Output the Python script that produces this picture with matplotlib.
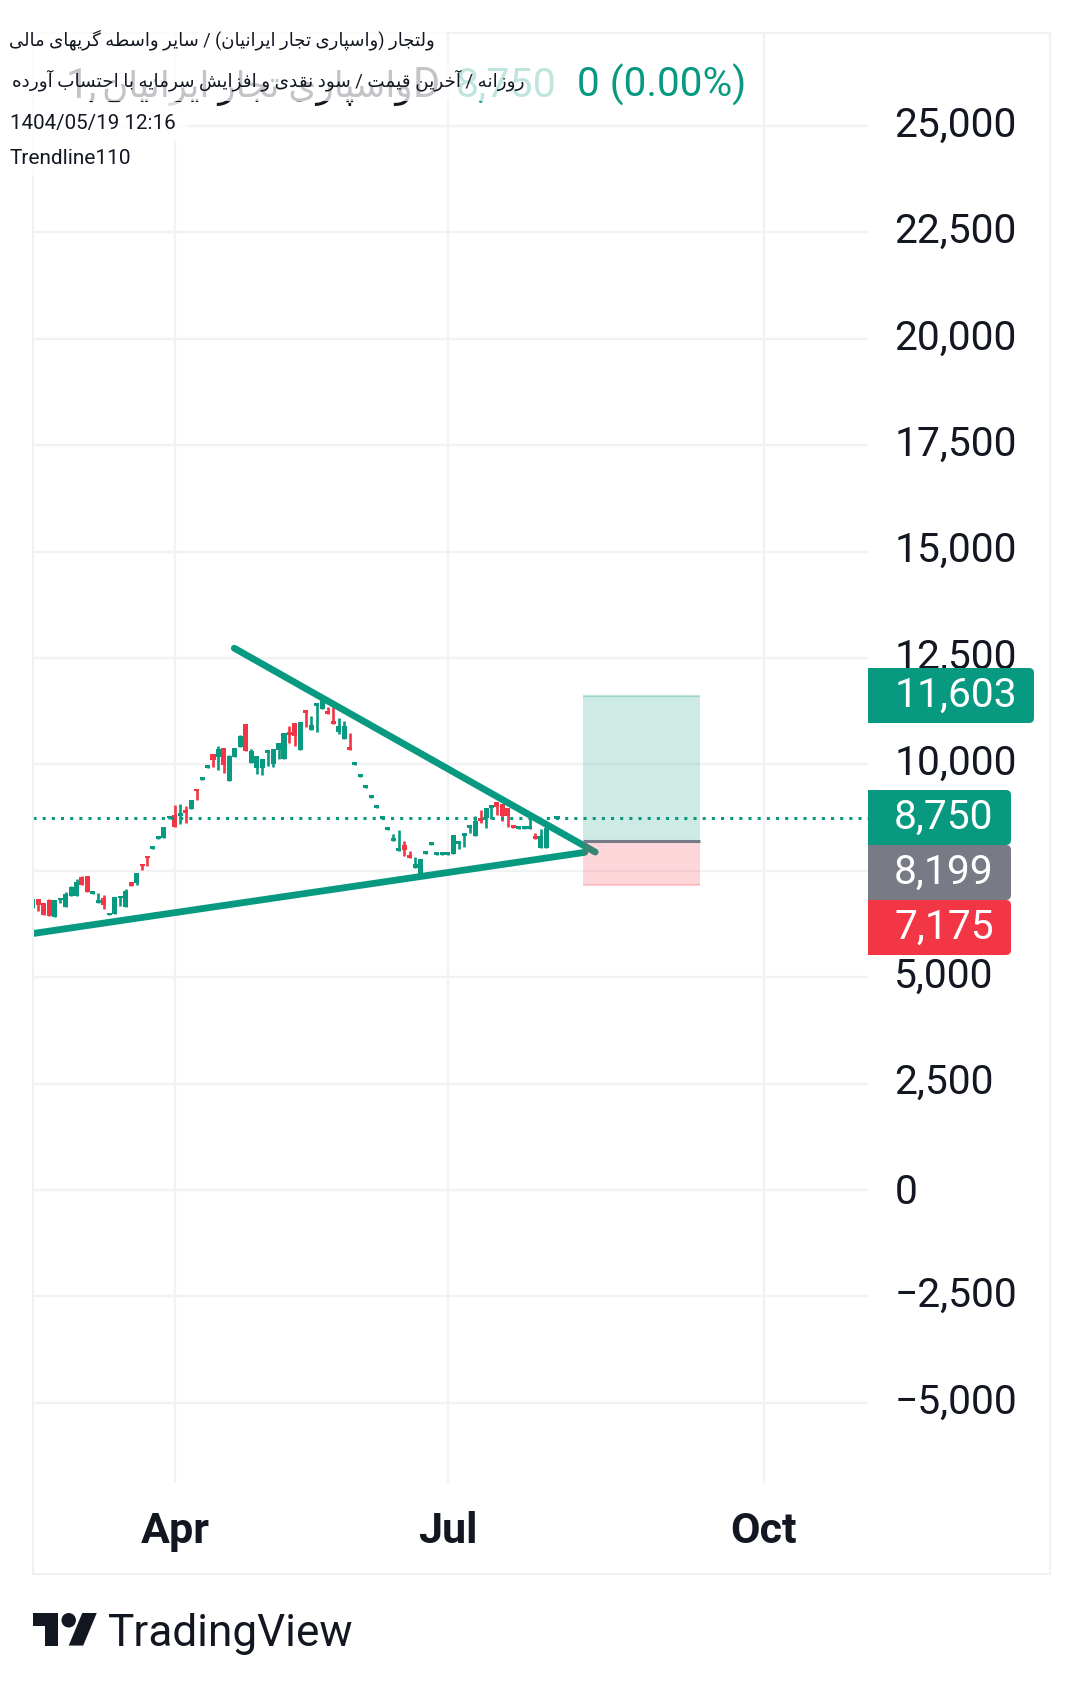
import unicodedata
import matplotlib
matplotlib.use("Agg")
from matplotlib import pyplot as plt
from matplotlib.patches import Rectangle, Circle, Polygon, PathPatch
from matplotlib.path import Path
from matplotlib.transforms import ScaledTranslation

plt.rcParams['font.family'] = ['Roboto', 'DejaVu Sans']

# daily bars, one gap before the last bar
bar_index = list(range(95)) + [96]
opens = [6627, 6846, 6752, 6807, 6416, 6807, 6650, 6909, 6909, 7347,
         7370, 6956, 6744, 6854, 6463, 6486, 6854, 6650, 7237, 7214,
         7668, 7856, 8012, 8247, 8270, 8732, 8802, 8779, 8920, 8943,
         9428, 9625, 9914, 10235, 10165, 10376, 9601, 10165, 10399, 10939,
         10024, 9906, 9906, 10259, 10000, 10329, 10118, 10752, 10963, 10329,
         11268, 10799, 11362, 11292, 11245, 11010, 10752, 10587, 10399, 9977,
         9695, 9437, 9202, 8967, 8717, 8459, 8201, 7966, 8099, 7864,
         7567, 7418, 7895, 8107, 7872, 7872, 7872, 7888, 8122, 8310,
         8498, 8310, 8733, 8733, 8967, 9108, 9061, 8983, 8568, 8474,
         8474, 8474, 8310, 8028, 8028, 8717]
closes = [6846, 6690, 6455, 6431, 6807, 6870, 6964, 7128, 7245, 7159,
          7003, 7018, 6807, 6690, 6517, 6893, 6917, 7034, 7151, 7441,
          7613, 7793, 8075, 8309, 8521, 8795, 8529, 8849, 8857, 9155,
          9374, 9695, 9977, 10094, 10352, 9977, 10188, 10376, 10658, 10306,
          10306, 10188, 10118, 10329, 10352, 10493, 10728, 10681, 10658, 10986,
          11198, 10916, 11432, 11503, 11174, 10939, 10892, 10892, 10329, 10047,
          9766, 9507, 9273, 9038, 8780, 8521, 8263, 8028, 7982, 7802,
          7669, 7770, 7958, 8169, 7935, 7935, 7935, 8334, 8193, 8381,
          8568, 8662, 8662, 8967, 9038, 8991, 8780, 8780, 8498, 8545,
          8545, 8545, 8240, 8310, 8498, 8780]
highs = [6846, 6846, 6752, 6830, 6807, 6870, 6995, 7151, 7300, 7370,
         7370, 7018, 6971, 6940, 6517, 6893, 6917, 7065, 7237, 7441,
         7668, 7856, 8075, 8309, 8521, 8795, 9037, 9061, 9014, 9155,
         9428, 9695, 9977, 10235, 10423, 10376, 10212, 10376, 10681, 10939,
         10352, 10188, 10118, 10329, 10352, 10493, 10728, 10892, 10963, 10986,
         11268, 11127, 11432, 11581, 11338, 11338, 11080, 11010, 10728, 10047,
         9766, 9507, 9273, 9038, 8780, 8521, 8357, 8451, 8193, 7958,
         7817, 7770, 7958, 8169, 7935, 7935, 7935, 8334, 8193, 8381,
         8568, 8780, 8921, 8967, 9038, 9108, 9061, 8983, 8568, 8545,
         8545, 8756, 8381, 8474, 8498, 8780]
lows = [6627, 6557, 6455, 6431, 6416, 6744, 6650, 6909, 6909, 7159,
        7003, 6956, 6744, 6596, 6463, 6486, 6666, 6650, 7151, 7159,
        7511, 7605, 8012, 8247, 8270, 8708, 8529, 8591, 8615, 8943,
        9155, 9625, 9914, 9930, 9860, 9789, 9601, 10165, 10399, 10306,
        10024, 9766, 9742, 9953, 9930, 10118, 10118, 10493, 10423, 10329,
        10869, 10799, 10752, 11292, 11174, 10939, 10705, 10587, 10329, 9977,
        9695, 9437, 9202, 8967, 8717, 8459, 8201, 7966, 7841, 7802,
        7567, 7418, 7895, 8107, 7872, 7872, 7872, 7888, 8005, 8052,
        8381, 8310, 8615, 8498, 8709, 8803, 8662, 8521, 8498, 8474,
        8474, 8474, 8240, 8028, 8028, 8717]

price_ticks = [25000, 22500, 20000, 17500, 15000, 12500, 10000, 7500, 5000, 2500, 0, -2500, -5000]
price_labels = ['25,000', '22,500', '20,000', '17,500', '15,000', '12,500', '10,000', '7,500',
                '5,000', '2,500', '0', '\u22122,500', '\u22125,000']
month_ticks = [26.1, 76, 133.9]
month_labels = ['Apr', 'Jul', 'Oct']

last_price = 8750
target_price = 11603
entry_price = 8199
stop_price = 7175
position_bars = [100.75, 122.1]

upper_line_bars = [36.9, 103.0]
upper_line_prices = [12730, 7941]
lower_line_bars = [0, 101.1]
lower_line_prices = [6026, 7934]

title_lines = ['ولتجار (واسپاری تجار ایرانیان) / سایر واسطه گریهای مالی',
               'روزانه / آخرین قیمت / سود نقدی و افزایش سرمایه با احتساب آورده']
faded_name = 'واسپاری تجار ایرانیان'

TEAL = '#089981'
RED = '#F23645'
GRAY = '#787B86'
INK = '#131722'
GRID = '#F2F2F4'

# matplotlib has no arabic shaping, so pick the joined glyphs by hand
forms = {}
for cp in list(range(0xFB50, 0xFE00)) + list(range(0xFE70, 0xFEFD)):
    parts = unicodedata.decomposition(chr(cp)).split()
    if len(parts) == 2 and parts[0] in ('<isolated>', '<final>', '<initial>', '<medial>'):
        forms.setdefault(chr(int(parts[1], 16)), {})[parts[0]] = chr(cp)


def joins_next(ch):
    return ch in forms and '<initial>' in forms[ch]


def shape(text):
    out = []
    for n, ch in enumerate(text):
        if ch not in forms:
            out.append({'(': ')', ')': '('}.get(ch, ch))
            continue
        before = n > 0 and joins_next(text[n - 1])
        after = n + 1 < len(text) and text[n + 1] in forms and joins_next(ch)
        if before and after:
            key = '<medial>'
        elif before:
            key = '<final>'
        elif after:
            key = '<initial>'
        else:
            key = '<isolated>'
        out.append(forms[ch].get(key, ch))
    return ''.join(out[::-1])


def fit_width(txt, width_px):
    # dejavu runs wider than the font of the picture, scale to the measured width
    now = txt.get_window_extent(fig.canvas.get_renderer()).width
    txt.set_fontsize(txt.get_fontsize() * width_px / now)


fig = plt.figure(figsize=(10.83, 16.88), dpi=100, facecolor='white')
W, H = 1083, 1688
left, right, top, bottom = 32.5, 868, 33, 1483
ax = fig.add_axes([left / W, 1 - bottom / H, (right - left) / W, (bottom - top) / H])
ax.set_zorder(1)

# bar 0 sits at the left edge, 5.46px a bar
ax.set_xlim(-0.06, 152.96)
ax.set_ylim(-6884, 27185)
for side in ax.spines.values():
    side.set_visible(False)
ax.grid(True, color=GRID, lw=1.7, zorder=0)
ax.set_axisbelow(True)
ax.yaxis.tick_right()
ax.set_yticks(price_ticks)
ax.set_yticklabels(price_labels, fontsize=29.3, color=INK)
ax.set_xticks(month_ticks)
ax.set_xticklabels(month_labels, fontsize=31, color=INK, fontweight='bold')
ax.tick_params(axis='y', length=0, pad=19)
ax.tick_params(axis='x', length=0, pad=20)
for label in ax.get_yticklabels():
    # the plain 0 has no comma and sits a little lower than the others
    shift = 1.5 if label.get_text() == '0' else 5
    label.set_transform(label.get_transform() + ScaledTranslation(0, shift / 100, fig.dpi_scale_trans))

colors = [TEAL if c >= o else RED for o, c in zip(opens, closes)]
ax.vlines(bar_index, lows, highs, colors=colors, lw=1.9, zorder=2)
ax.bar(bar_index, [abs(c - o) for o, c in zip(opens, closes)], bottom=[min(o, c) for o, c in zip(opens, closes)],
       width=0.92, color=colors, lw=0, zorder=2)

ax.plot(upper_line_bars, upper_line_prices, color=TEAL, lw=4.9, solid_capstyle='round', zorder=3)
ax.plot(lower_line_bars, lower_line_prices, color=TEAL, lw=4.9, solid_capstyle='round', zorder=3)

box_w = position_bars[1] - position_bars[0]
ax.add_patch(Rectangle((position_bars[0], entry_price), box_w, target_price - entry_price,
                       facecolor=TEAL, alpha=0.2, lw=0, zorder=5))
ax.add_patch(Rectangle((position_bars[0], stop_price), box_w, entry_price - stop_price,
                       facecolor=RED, alpha=0.2, lw=0, zorder=5))
ax.plot(position_bars, [target_price, target_price], color=TEAL, alpha=0.25, lw=1.6, zorder=5,
        solid_capstyle='butt')
ax.plot(position_bars, [stop_price, stop_price], color=RED, alpha=0.2, lw=1.6, zorder=5,
        solid_capstyle='butt')
ax.plot(position_bars, [entry_price, entry_price], color=GRAY, lw=2.2, zorder=5, solid_capstyle='butt')
ax.axhline(last_price, color=TEAL, lw=2.2, linestyle=(0, (1, 2)), zorder=6)

# everything else is laid out in picture pixels on top
ov = fig.add_axes([0, 0, 1, 1])
ov.set_zorder(2)
ov.set_xlim(0, W)
ov.set_ylim(H, 0)
ov.axis('off')
ov.patch.set_alpha(0)

ov.add_patch(Rectangle((32.5, 33), 1050 - 32.5, 1574 - 33, fill=False, edgecolor='#F0F1F5', lw=1.5, zorder=1))

# the legend rows sit over a half see through white band
ov.text(66, 97, '1,', fontsize=30, color=INK, va='baseline', zorder=2)
faded = ov.text(102, 97, shape(faded_name), fontsize=28, color=INK, va='baseline', zorder=2)
fit_width(faded, 311)
ov.text(413, 97, 'D', fontsize=30, color=INK, va='baseline', zorder=2)
ov.text(456, 97, '8,750', fontsize=29.7, color=TEAL, va='baseline', zorder=2)
ov.add_patch(Rectangle((0, 23), 446, 39, facecolor='white', alpha=0.75, lw=0, zorder=3))
ov.add_patch(Rectangle((0, 62), 558, 39, facecolor='white', alpha=0.75, lw=0, zorder=3))
ov.add_patch(Rectangle((0, 102), 187, 39, facecolor='white', alpha=0.85, lw=0, zorder=3))
ov.add_patch(Rectangle((0, 141), 141, 35, facecolor='white', alpha=0.85, lw=0, zorder=3))
ov.text(577, 97, '0 (0.00%)', fontsize=29.2, color=TEAL, va='baseline', zorder=4)
line_one = ov.text(435, 40, shape(title_lines[0]), fontsize=13, color=INK, ha='right', va='center', zorder=4)
line_two = ov.text(525, 80, shape(title_lines[1]), fontsize=13, color=INK, ha='right', va='center', zorder=4)
fit_width(line_one, 424)
fit_width(line_two, 514)
ov.text(10, 123, '1404/05/19 12:16', fontsize=14.8, color=INK, va='center', zorder=4)
ov.text(9.5, 158, 'Trendline110', fontsize=15, color=INK, va='center', zorder=4)


def price_tag(y0, y1, x_right, color, label, x_text):
    r = 5
    verts = [(right, y0), (x_right - r, y0), (x_right, y0), (x_right, y0 + r), (x_right, y1 - r),
             (x_right, y1), (x_right - r, y1), (right, y1), (right, y0)]
    codes = [Path.MOVETO, Path.LINETO, Path.CURVE3, Path.CURVE3, Path.LINETO,
             Path.CURVE3, Path.CURVE3, Path.LINETO, Path.CLOSEPOLY]
    ov.add_patch(PathPatch(Path(verts, codes), facecolor=color, lw=0, zorder=5))
    ov.text(x_text, (y0 + y1) / 2, label, fontsize=29.3, color='white', va='center', zorder=6)


price_tag(668, 723, 1034, TEAL, f'{target_price:,}', 895)
price_tag(790, 845, 1011, TEAL, f'{last_price:,}', 894)
price_tag(845, 900, 1011, GRAY, f'{entry_price:,}', 894)
price_tag(900, 955, 1011, RED, f'{stop_price:,}', 894)

# TradingView logo
scale = 1.81
lx, ly = 32.5, 1613 - 4 * scale


def logo(points):
    return [(lx + px * scale, ly + py * scale) for px, py in points]


ov.add_patch(Polygon(logo([(14, 22), (7, 22), (7, 11), (0, 11), (0, 4), (14, 4)]), facecolor=INK, lw=0))
ov.add_patch(Polygon(logo([(28, 22), (20, 22), (27.5, 4), (35.5, 4)]), facecolor=INK, lw=0))
ov.add_patch(Circle((lx + 20 * scale, ly + 8 * scale), 4 * scale, facecolor=INK, lw=0))
ov.text(108, 1645.7, 'TradingView', fontsize=31.8, color=INK, va='baseline')

fig.savefig('out.png', dpi=100)
